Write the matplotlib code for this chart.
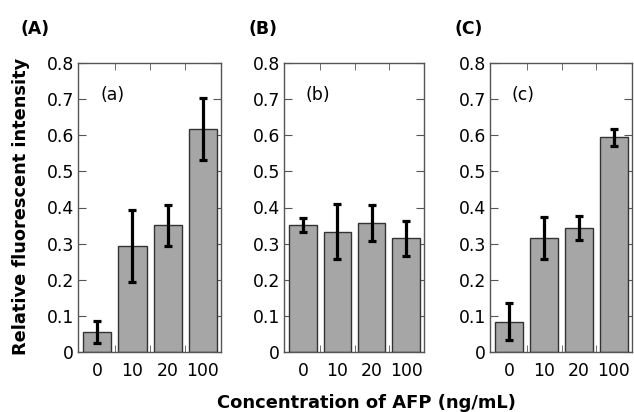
import matplotlib
matplotlib.use("Agg")
import matplotlib.pyplot as plt
import numpy as np

plt.rcParams['font.family'] = ['DejaVu Sans']

conc_labels = ["0", "10", "20", "100"]
panel_tags = ["(A)", "(B)", "(C)"]
inner_tags = ["(a)", "(b)", "(c)"]

vals_a = [0.056, 0.294, 0.351, 0.617]
err_a = [0.030, 0.099, 0.057, 0.086]
vals_b = [0.352, 0.333, 0.357, 0.315]
err_b = [0.020, 0.076, 0.050, 0.049]
vals_c = [0.084, 0.315, 0.344, 0.594]
err_c = [0.051, 0.058, 0.033, 0.024]

values = [vals_a, vals_b, vals_c]
errors = [err_a, err_b, err_c]

W, H = 634, 412
fig = plt.figure(figsize=(W / 100, H / 100), dpi=100)
lefts = [78, 284, 490]
widths = [143, 140, 142]
tag_x = [21, 248, 455]
bottom = 60 / H
height = 289 / H
edge = '#555555'
fs = 12.4

for i in range(3):
    ax = fig.add_axes([lefts[i] / W, bottom, widths[i] / W, height])
    x = np.arange(len(conc_labels))
    ax.bar(x, values[i], width=0.8, color='#a6a6a6', edgecolor='#333333',
           linewidth=1.0, zorder=2)
    ax.errorbar(x, values[i], yerr=errors[i], fmt='none', ecolor='black',
                elinewidth=2.3, capsize=3.2, capthick=2.3, zorder=3)
    ax.set_xlim(-0.55, 3.52)
    ax.set_ylim(0, 0.8)
    ax.set_yticks(np.arange(0, 0.81, 0.1))
    ax.set_yticklabels(["0", "0.1", "0.2", "0.3", "0.4", "0.5", "0.6", "0.7", "0.8"])
    ax.set_xticks(x)
    ax.set_xticklabels(conc_labels)
    ax.set_xticks([0.5, 1.5, 2.5], minor=True)
    ax.tick_params(axis='x', which='major', length=0, labelsize=fs, pad=7)
    ax.tick_params(axis='x', which='minor', direction='in', length=5,
                   top=True, bottom=True, color=edge)
    ax.tick_params(axis='y', direction='in', length=5.5, left=True, right=True,
                   labelsize=fs, pad=3, color=edge)
    for s in ax.spines.values():
        s.set_color(edge)
        s.set_linewidth(1.0)
    ax.text(0.154, 0.89, inner_tags[i], transform=ax.transAxes, fontsize=fs,
            va='center')
    fig.text(tag_x[i] / W, (H - 29) / H, panel_tags[i], fontsize=fs,
             fontweight='bold', va='center')

fig.text(21 / W, 0.499, "Relative fluorescent intensity",
         rotation=90, ha='center', va='center', fontsize=12.8, fontweight='bold')
fig.text(366 / W, (H - 408) / H, "Concentration of AFP (ng/mL)", ha='center',
         va='baseline', fontsize=12.9, fontweight='bold')

fig.savefig("out.png", dpi=100)
